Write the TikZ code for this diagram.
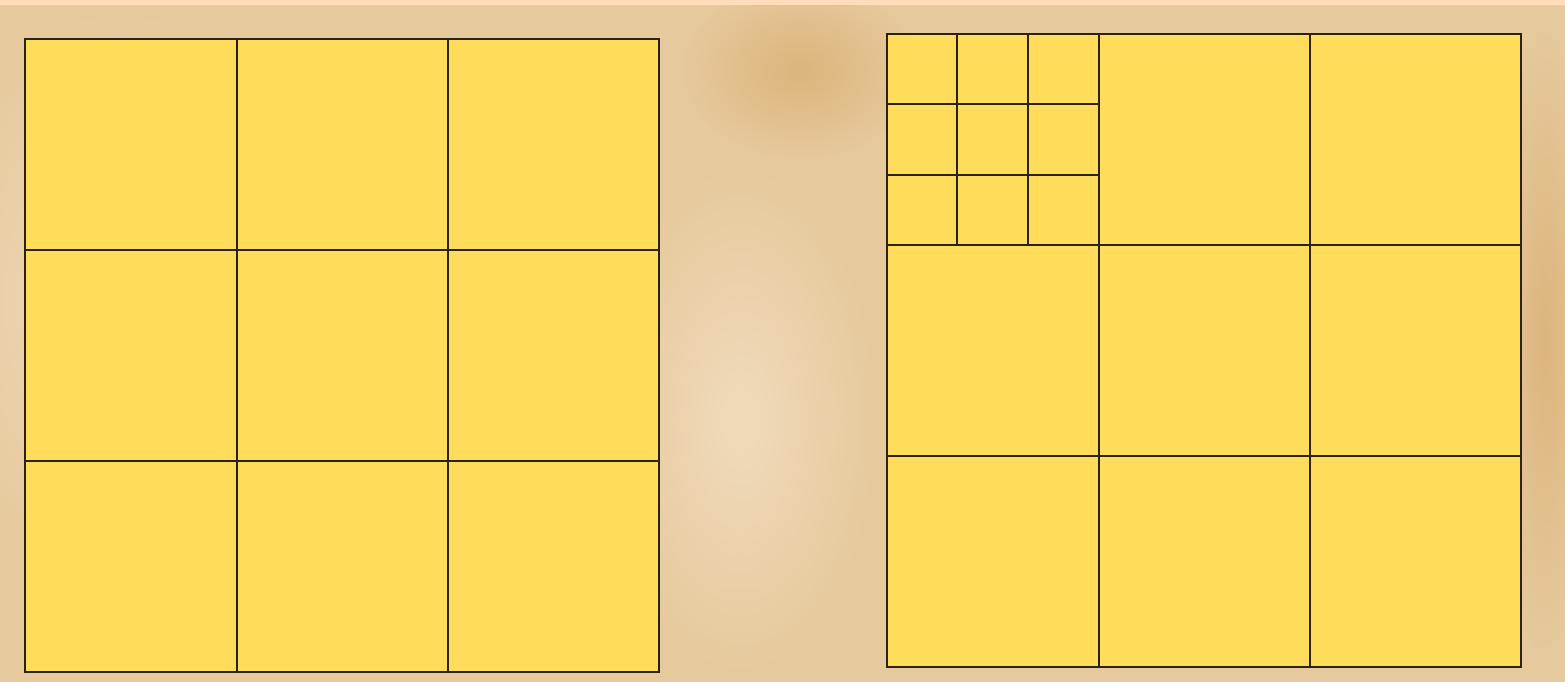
\documentclass[tikz,border=0pt]{standalone}
\begin{document}
\begin{tikzpicture}[x=1pt,y=-1pt,
  gridline/.style={draw=gridbrown,line width=1.7pt},
  subline/.style={draw=gridbrown,line width=2pt}]
\definecolor{cellyellow}{HTML}{FFDC5A}
\definecolor{gridbrown}{HTML}{2B2212}
\definecolor{parch}{HTML}{E6C99C}
\definecolor{parchlight}{HTML}{F0DBBB}
\definecolor{parchdark}{HTML}{DCB47C}
\definecolor{peach}{HTML}{FFDCBA}
\useasboundingbox (0,0) rectangle (1565,682);
% background
\fill[parch] (0,0) rectangle (1565,682);
\shade[inner color=parchlight,outer color=parch] (740,420) ellipse (140 and 260);
\shade[inner color=parchlight,outer color=parch] (120,300) ellipse (200 and 300);
\shade[inner color=parchdark,outer color=parch] (800,70) ellipse (120 and 90);
\shade[inner color=parchdark,outer color=parch] (1545,340) ellipse (50 and 320);
\fill[peach] (0,0) rectangle (1565,5);
% left grid
\fill[cellyellow] (25,39) rectangle (659,672);
\draw[gridline] (25,39) rectangle (659,672);
\draw[gridline] (237,39) -- (237,672) (448,39) -- (448,672)
  (25,250) -- (659,250) (25,461) -- (659,461);
% right grid
\fill[cellyellow] (887,34) rectangle (1521,667);
\draw[gridline] (887,34) rectangle (1521,667);
\draw[gridline] (1099,34) -- (1099,667) (1310,34) -- (1310,667)
  (887,245) -- (1521,245) (887,456) -- (1521,456);
\draw[subline] (887,34) rectangle (1099,245);
\draw[gridline] (957,34) -- (957,245) (1028,34) -- (1028,245)
  (887,104) -- (1099,104) (887,175) -- (1099,175);
\end{tikzpicture}
\end{document}
